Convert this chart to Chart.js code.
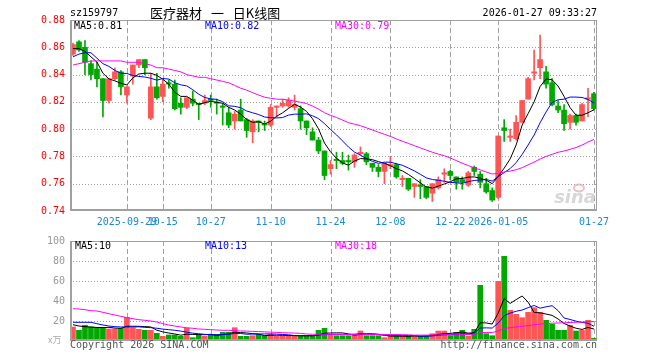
<!DOCTYPE html>
<html>
<head>
<meta charset="utf-8">
<script src="https://cdn.jsdelivr.net/npm/chart.js@4.4.1/dist/chart.umd.min.js"></script>
<style>
  body { margin: 0; background: #fff; }
  #wrap { position: relative; width: 660px; height: 360px; overflow: hidden;
          font-family: "DejaVu Sans Mono", monospace; font-size: 10px; line-height: 12px; }
  canvas { position: absolute; left: 0; }
  .t { position: absolute; white-space: pre; }
  #title { left: 150px; top: 6px; font-family: "Noto Sans CJK SC", sans-serif; font-size: 13px;
           line-height: 13px; word-spacing: 6px; }
</style>
</head>
<body>
<div id="wrap">
  <canvas id="kChart" width="660" height="230" style="top:0"></canvas>
  <canvas id="vChart" width="660" height="130" style="top:230px"></canvas>

  <div class="t" style="left:70px;top:7px">sz159797</div>
  <div class="t" id="title">医疗器材 一 日K线图</div>
  <div class="t" style="right:63px;top:7px">2026-01-27 09:33:27</div>

  <div class="t" id="pm5" style="left:74px;top:20px;color:#000"></div>
  <div class="t" id="pm10" style="left:205px;top:20px;color:#0000ff"></div>
  <div class="t" id="pm30" style="left:335px;top:20px;color:#ff00ff"></div>

  <div class="t" id="vm5" style="left:75px;top:240px;color:#000"></div>
  <div class="t" id="vm10" style="left:205px;top:240px;color:#0000ff"></div>
  <div class="t" id="vm30" style="left:335px;top:240px;color:#ff00ff"></div>

  <div class="t" style="left:48px;top:334px;color:#aaa;font-family:'Noto Sans CJK SC';font-size:9px">x万</div>
  <div class="t" style="left:70px;top:339px;color:#555">Copyright 2026 SINA.COM</div>
  <div class="t" style="right:63px;top:339px;color:#555">http://finance.sina.com.cn</div>
</div>

<script>
// ---------------------
// 数据
// ---------------------
const dates = [].concat(
    ["16", "17", "18", "19", "22", "23", "24", "25", "26", "29", "30"].map(d => "2025-09-" + d),
    ["09", "10", "13", "14", "15", "16", "17", "20", "21", "22", "23", "24", "27", "28", "29", "30", "31"].map(d => "2025-10-" + d),
    ["03", "04", "05", "06", "07", "10", "11", "12", "13", "14", "17", "18", "19", "20", "21", "24", "25", "26", "27", "28"].map(d => "2025-11-" + d),
    ["01", "02", "03", "04", "05", "08", "09", "10", "11", "12", "15", "16", "17", "18", "19", "22", "23", "24", "25", "26", "29", "30", "31"].map(d => "2025-12-" + d),
    ["05", "06", "07", "08", "09", "12", "13", "14", "15", "16", "19", "20", "21", "22", "23", "26", "27"].map(d => "2026-01-" + d)
);

const tickDates = ["2025-09-29", "2025-10-15", "2025-10-27", "2025-11-10", "2025-11-24", "2025-12-08", "2025-12-22", "2026-01-05", "2026-01-27"];
const tickText = ["2025-09-29", "10-15", "10-27", "11-10", "11-24", "12-08", "12-22", "2026-01-05", "01-27"];

const open = [
    0.855, 0.864, 0.860, 0.848, 0.844, 0.837, 0.821, 0.837, 0.842, 0.825,
    0.839, 0.847, 0.851, 0.808, 0.831, 0.824, 0.834, 0.833, 0.819, 0.816,
    0.822, 0.819, 0.819, 0.822, 0.820, 0.817, 0.812, 0.806, 0.814, 0.807,
    0.798, 0.806, 0.804, 0.803, 0.816, 0.817, 0.817, 0.816, 0.815, 0.806,
    0.798, 0.792, 0.784, 0.771, 0.778, 0.777, 0.777, 0.776, 0.782, 0.782,
    0.775, 0.772, 0.769, 0.773, 0.774, 0.763, 0.764, 0.758, 0.759, 0.758,
    0.753, 0.757, 0.767, 0.769, 0.765, 0.763, 0.759, 0.772, 0.767, 0.760,
    0.755, 0.750, 0.801, 0.794, 0.793, 0.805, 0.822, 0.841, 0.845, 0.842,
    0.834, 0.817, 0.814, 0.805, 0.810, 0.806, 0.822, 0.826
];
const high = [
    0.863, 0.865, 0.865, 0.850, 0.849, 0.837, 0.837, 0.845, 0.843, 0.831,
    0.847, 0.851, 0.851, 0.841, 0.841, 0.836, 0.836, 0.836, 0.823, 0.823,
    0.828, 0.819, 0.825, 0.825, 0.822, 0.819, 0.816, 0.813, 0.822, 0.808,
    0.807, 0.806, 0.806, 0.818, 0.817, 0.822, 0.823, 0.825, 0.817, 0.806,
    0.801, 0.794, 0.784, 0.777, 0.783, 0.783, 0.781, 0.782, 0.787, 0.783,
    0.775, 0.774, 0.775, 0.780, 0.775, 0.766, 0.764, 0.760, 0.763, 0.758,
    0.760, 0.765, 0.771, 0.770, 0.765, 0.765, 0.769, 0.773, 0.769, 0.764,
    0.757, 0.795, 0.807, 0.800, 0.810, 0.821, 0.838, 0.858, 0.869, 0.846,
    0.837, 0.821, 0.818, 0.811, 0.811, 0.819, 0.830, 0.827
];
const low = [
    0.854, 0.857, 0.840, 0.836, 0.831, 0.809, 0.819, 0.836, 0.825, 0.819,
    0.833, 0.845, 0.840, 0.807, 0.822, 0.820, 0.830, 0.814, 0.811, 0.815,
    0.817, 0.807, 0.818, 0.816, 0.811, 0.803, 0.801, 0.800, 0.806, 0.794,
    0.790, 0.798, 0.799, 0.802, 0.809, 0.816, 0.816, 0.814, 0.800, 0.796,
    0.792, 0.782, 0.763, 0.767, 0.771, 0.774, 0.770, 0.772, 0.781, 0.774,
    0.769, 0.765, 0.760, 0.771, 0.764, 0.758, 0.755, 0.750, 0.749, 0.749,
    0.747, 0.756, 0.761, 0.763, 0.756, 0.756, 0.758, 0.766, 0.757, 0.753,
    0.747, 0.749, 0.791, 0.791, 0.792, 0.805, 0.822, 0.836, 0.837, 0.830,
    0.817, 0.812, 0.799, 0.800, 0.803, 0.806, 0.809, 0.814
];
const close = [
    0.862, 0.858, 0.849, 0.840, 0.837, 0.821, 0.837, 0.842, 0.831, 0.831,
    0.847, 0.851, 0.845, 0.831, 0.823, 0.833, 0.833, 0.815, 0.816, 0.823,
    0.819, 0.818, 0.821, 0.821, 0.819, 0.816, 0.803, 0.811, 0.806, 0.799,
    0.806, 0.805, 0.803, 0.816, 0.817, 0.819, 0.821, 0.818, 0.806, 0.801,
    0.792, 0.784, 0.766, 0.774, 0.777, 0.775, 0.776, 0.781, 0.783, 0.776,
    0.772, 0.769, 0.775, 0.774, 0.765, 0.764, 0.756, 0.760, 0.758, 0.750,
    0.760, 0.763, 0.768, 0.766, 0.761, 0.761, 0.768, 0.769, 0.761, 0.754,
    0.748, 0.795, 0.799, 0.795, 0.805, 0.821, 0.837, 0.842, 0.851, 0.833,
    0.818, 0.814, 0.804, 0.810, 0.805, 0.818, 0.823, 0.815
];
// 成交量 (万)
const volume = [
    14, 10.7, 15.7, 14, 13.3, 13.3, 12, 12, 12.7, 23.7,
    13.3, 11.7, 10.7, 10.7, 7.7, 4.7, 6, 6, 4.7, 12.7,
    3.3, 6, 4.7, 6.7, 6.7, 8.7, 8.7, 13.3, 4.7, 4.7,
    5.3, 6.7, 5.3, 6.7, 4.7, 5.3, 5.3, 5.3, 5.3, 4.7,
    5.3, 10.7, 12.7, 6.7, 5.3, 5.3, 5.3, 6.7, 10, 5.3,
    5.3, 5.3, 3.3, 5.3, 5.3, 4.7, 4.7, 5.3, 4.7, 5.3,
    7.3, 10, 10, 5.3, 8.7, 10.7, 4.7, 11.7, 55.7, 7.3,
    5.3, 59.7, 84.7, 30.7, 26.7, 23.3, 28.7, 33.3, 28.7, 20.7,
    16.7, 10.7, 10.7, 15.7, 10, 10.7, 20.7, 2.7
];

// 图左端之前的均线值 (窗口不满的部分, 从图上读)
const ma5Head = [0.859, 0.859, 0.857, 0.853];
const ma10Head = [0.853, 0.855, 0.856, 0.856, 0.852, 0.848, 0.846, 0.843, 0.841];
const ma30Head = [
    0.847, 0.848, 0.849, 0.850, 0.850, 0.850, 0.850, 0.850, 0.850, 0.849,
    0.849, 0.849, 0.848, 0.847, 0.845, 0.845, 0.844, 0.843, 0.842, 0.840,
    0.839, 0.838, 0.838, 0.837, 0.836, 0.835, 0.834, 0.832, 0.830
];
const vma5Head = [16.3, 15, 14.3, 14];
const vma10Head = [18.7, 18.7, 18.7, 18.7, 17.3, 16, 15, 14.3, 14];
const vma30Head = [
    32.3, 32, 31.3, 30.3, 30, 28.7, 27.3, 26, 24.7, 23.3,
    22.3, 21.3, 20.7, 20, 19, 17.3, 16, 15, 14, 13.3,
    12.7, 12, 11.7, 11.3, 11, 10.7, 10.7, 10.3, 10
];

const priceLegend = ["MA5:0.81", "MA10:0.82", "MA30:0.79"];
const volLegend = ["MA5:10", "MA10:13", "MA30:18"];
const priceTicks = { min: 0.74, max: 0.88, step: 0.02 };
const volTicks = { min: 0, max: 100, step: 20 };

// ---------------------
// 样式
// ---------------------
const UP = "#ff5555";
const DOWN = "#00a800";
const GRID = "#a0a0a0";
const FONT = { family: "'DejaVu Sans Mono', monospace", size: 10 };

document.getElementById("pm5").textContent = priceLegend[0];
document.getElementById("pm10").textContent = priceLegend[1];
document.getElementById("pm30").textContent = priceLegend[2];
document.getElementById("vm5").textContent = volLegend[0];
document.getElementById("vm10").textContent = volLegend[1];
document.getElementById("vm30").textContent = volLegend[2];

function movingAvg(vals, n, head) {
    return vals.map((v, i) => {
        if (i < n - 1) return head[i];
        let s = 0;
        for (let k = i - n + 1; k <= i; k++) s += vals[k];
        return s / n;
    });
}

const colors = close.map((c, i) => (c >= open[i] ? UP : DOWN));
const showTick = i => tickDates.indexOf(dates[i]) >= 0;

// 网格: 横向点线, 纵向虚线 (位置取自 scale)
const gridPlugin = {
    id: "dashGrid",
    beforeDatasetsDraw(chart) {
        const { ctx, chartArea: a, scales } = chart;
        ctx.save();
        ctx.strokeStyle = GRID;
        ctx.lineWidth = 1;
        ctx.setLineDash([1, 2]);
        scales.y.ticks.forEach(t => {
            const y = Math.round(scales.y.getPixelForValue(t.value)) + 0.5;
            if (y <= a.top + 2 || y >= a.bottom - 2) return;
            ctx.beginPath();
            ctx.moveTo(a.left, y);
            ctx.lineTo(a.right, y);
            ctx.stroke();
        });
        ctx.setLineDash([5, 3]);
        tickDates.forEach(d => {
            const x = Math.round(scales.x.getPixelForValue(dates.indexOf(d))) + 0.5;
            ctx.beginPath();
            ctx.moveTo(x, a.top);
            ctx.lineTo(x, a.bottom);
            ctx.stroke();
        });
        ctx.restore();
    }
};

// 外框: 左/下粗一点
const framePlugin = {
    id: "frame",
    afterDraw(chart) {
        const { ctx, chartArea: a } = chart;
        ctx.save();
        ctx.strokeStyle = "#a0a0a0";
        ctx.lineWidth = 1;
        ctx.strokeRect(a.left + 0.5, a.top + 0.5, a.right - a.left - 1, a.bottom - a.top - 1);
        ctx.lineWidth = 2;
        ctx.beginPath();
        ctx.moveTo(a.left + 1, a.top);
        ctx.lineTo(a.left + 1, a.bottom - 1);
        ctx.lineTo(a.right, a.bottom - 1);
        ctx.stroke();
        ctx.restore();
    }
};

// 新浪水印
const watermark = {
    id: "watermark",
    beforeDatasetsDraw(chart) {
        const { ctx, chartArea: a } = chart;
        ctx.save();
        ctx.fillStyle = "rgba(205,205,205,0.8)";
        ctx.font = "italic bold 18px 'DejaVu Sans', sans-serif";
        ctx.textAlign = "right";
        ctx.fillText("sina", a.right - 1, a.bottom - 8);
        ctx.strokeStyle = "rgba(225,165,165,0.7)";
        ctx.lineWidth = 2;
        ctx.beginPath();
        ctx.ellipse(a.right - 18, a.bottom - 23, 5, 3.5, 0, 0, Math.PI * 2);
        ctx.stroke();
        ctx.restore();
    }
};

function xScale(showLabels) {
    return {
        type: "category",
        offset: true,
        grid: { display: false, drawTicks: false },
        border: { display: false },
        ticks: {
            display: showLabels,
            autoSkip: false,
            maxRotation: 0,
            padding: 5,
            color: "#1a88d8",
            font: FONT,
            callback: (v, i) => (showTick(i) ? tickText[tickDates.indexOf(dates[i])] : "")
        },
        afterFit: s => { s.height = 19; }
    };
}

function yScale(t, color, fmt) {
    return {
        position: "left",
        min: t.min,
        max: t.max,
        grid: { display: false, drawTicks: false },
        border: { display: false },
        ticks: { stepSize: t.step, padding: 5, color: color, font: FONT, callback: fmt },
        afterFit: s => { s.width = 70; }
    };
}

function maLine(data, color) {
    return {
        type: "line",
        data: data,
        borderColor: color,
        borderWidth: 1,
        pointRadius: 0,
        tension: 0,
        order: 0
    };
}

const common = {
    responsive: false,
    animation: false,
    devicePixelRatio: 1,
    plugins: { legend: { display: false }, tooltip: { enabled: false } }
};

// ---------------------
// K线
// ---------------------
new Chart(document.getElementById("kChart"), {
    type: "bar",
    data: {
        labels: dates,
        datasets: [
            {
                data: low.map((l, i) => [l, high[i]]),
                backgroundColor: colors,
                barThickness: 1,
                grouped: false,
                minBarLength: 1,
                order: 3
            },
            {
                data: open.map((o, i) => [o, close[i]]),
                backgroundColor: colors,
                barThickness: 5,
                grouped: false,
                minBarLength: 1,
                order: 2
            },
            maLine(movingAvg(close, 30, ma30Head), "#ff00ff"),
            maLine(movingAvg(close, 10, ma10Head), "#0000ff"),
            maLine(movingAvg(close, 5, ma5Head), "#000000")
        ]
    },
    options: {
        ...common,
        layout: { padding: { left: 0, right: 63, top: 20, bottom: 0 } },
        scales: {
            x: xScale(true),
            y: yScale(priceTicks, "#ff0000", v => v.toFixed(2))
        }
    },
    plugins: [gridPlugin, watermark, framePlugin]
});

// ---------------------
// 成交量
// ---------------------
new Chart(document.getElementById("vChart"), {
    type: "bar",
    data: {
        labels: dates,
        datasets: [
            {
                data: volume,
                backgroundColor: colors,
                barThickness: 5,
                order: 2
            },
            maLine(movingAvg(volume, 30, vma30Head), "#ff00ff"),
            maLine(movingAvg(volume, 10, vma10Head), "#0000ff"),
            maLine(movingAvg(volume, 5, vma5Head), "#000000")
        ]
    },
    options: {
        ...common,
        layout: { padding: { left: 0, right: 63, top: 10, bottom: 0 } },
        scales: {
            x: xScale(false),
            y: yScale(volTicks, "#999999", v => (v === 0 ? "" : v))
        }
    },
    plugins: [gridPlugin, framePlugin]
});
</script>
</body>
</html>
